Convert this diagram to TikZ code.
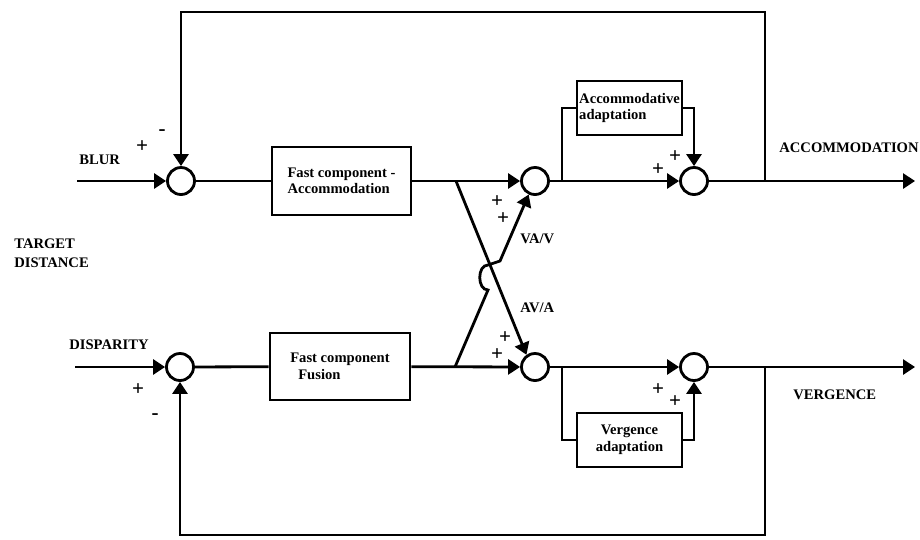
\documentclass[tikz,border=0pt]{standalone}
\usepackage{fontspec}
\setmainfont{Liberation Serif}
\usetikzlibrary{arrows.meta}
\newcommand\dtxt{\fontsize{14.6}{16.5}\selectfont\bfseries}
\newcommand\stxt{\fontsize{21}{21}\selectfont\bfseries}
\begin{document}
\begin{tikzpicture}[x=1pt,y=-1pt,line width=2.8pt,
  sum/.style={circle,draw,minimum size=27pt,inner sep=0pt},
  blk/.style={rectangle,draw,inner sep=0pt,font=\dtxt},
  lbl/.style={font=\dtxt,inner sep=0pt},
  sgn/.style={font=\stxt,inner sep=0pt},
  arr/.style={-{Triangle[length=12pt,width=15pt]}}]
\useasboundingbox (0,0) rectangle (920,539);

% summing junctions
\node[sum] (c1) at (181,181) {};
\node[sum] (c2) at (535,181) {};
\node[sum] (c3) at (694,181) {};
\node[sum] (c4) at (180,367) {};
\node[sum] (c5) at (535,367) {};
\node[sum] (c6) at (694,367) {};

% blocks
\node[blk,align=left,minimum width=139pt,minimum height=68pt] (fa) at (341.5,181)
  {Fast component -\\Accommodation};
\node[blk,align=left,minimum width=140pt,minimum height=67pt] (ff) at (340,366.5)
  {Fast component\\\hspace*{8pt}Fusion};
\node[blk,align=left,minimum width=105pt,minimum height=54pt] (aad) at (629.5,108)
  {Accommodative\\adaptation};
\node[blk,align=center,minimum width=105pt,minimum height=54pt] (vad) at (629.5,440)
  {Vergence\\adaptation};

% free ends and junction points
\coordinate (inb) at (77,181);
\coordinate (ind) at (75,367);
\coordinate (outa) at (915,181);
\coordinate (outv) at (915,367);
\coordinate (ja) at (562,181);
\coordinate (jb) at (765,181);
\coordinate (topr) at (765,12);
\coordinate (jc) at (562,367);
\coordinate (jd) at (765,367);
\coordinate (botr) at (765,535);
\coordinate (xa) at (456,181);
\coordinate (xb) at (455,367);
\coordinate (hop1) at (488,290);
\coordinate (hop2) at (488,265);
\coordinate (jog) at (500,261);

% accommodation channel
\draw[arr] (inb) -- (c1);
\draw (c1) -- (fa);
\draw[arr] (fa) -- (c2);
\draw[arr] (c2) -- (c3);
\draw[arr] (c3) -- (outa);
\draw (ja) |- (aad.west);
\draw[arr] (aad.east) -| (c3.north);
\draw[arr] (jb) -- (topr) -| (c1.north);

% vergence channel
\draw[arr] (ind) -- (c4);
\draw (c4) -- (ff);
\draw[arr] (ff) -- (c5);
\draw[arr] (c5) -- (c6);
\draw[arr] (c6) -- (outv);
\draw (jc) |- (vad.west);
\draw[arr] (vad.east) -| (c6.south);
\draw[arr] (jd) -- (botr) -| (c4.south);

% cross links
\draw[arr] (xa) -- (c5.125);
\draw[arr] (xb) -- (hop1) .. controls (477,290) and (477,265) .. (hop2) -- (jog) -- (c2.245);

% signs
\node[sgn] (s1) at (142,147) {+};
\node[sgn] (s2) at (162,133) {-};
\node[sgn] (s3) at (138,390) {+};
\node[sgn] (s4) at (155,417) {-};
\node[sgn] (s5) at (497,202) {+};
\node[sgn] (s6) at (503,219) {+};
\node[sgn] (s7) at (675,157) {+};
\node[sgn] (s8) at (658,170) {+};
\node[sgn] (s9) at (505,338) {+};
\node[sgn] (s10) at (497,355) {+};
\node[sgn] (s11) at (658,390) {+};
\node[sgn] (s12) at (675,402) {+};

% labels
\node[lbl,anchor=west] (blur) at (78,160) {BLUR};
\node[lbl,anchor=west] (disp) at (68,345) {DISPARITY};
\node[lbl,anchor=west,align=left] (targ) at (13,253) {TARGET\\[3pt]DISTANCE};
\node[lbl,anchor=west] (vav) at (519,239) {VA/V};
\node[lbl,anchor=west] (ava) at (519,308) {AV/A};
\node[lbl,anchor=west] (acc) at (778,148) {ACCOMMODATION};
\node[lbl,anchor=west] (verg) at (792,395) {VERGENCE};
\end{tikzpicture}
\end{document}
